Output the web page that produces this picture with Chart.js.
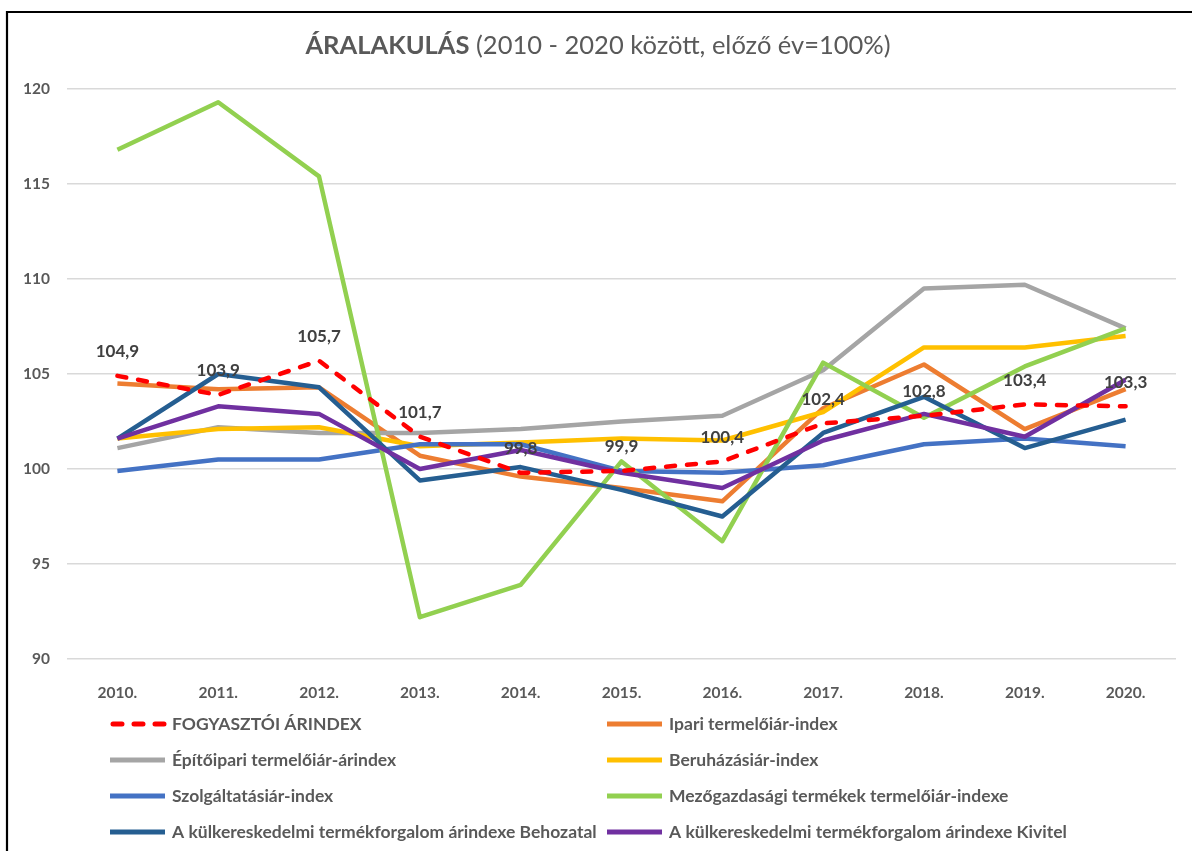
<!DOCTYPE html>
<html>
<head>
<meta charset="utf-8">
<script src="https://cdn.jsdelivr.net/npm/chart.js@4"></script>
<style>
  body { margin: 0; background: #fff; }
  canvas { display: block; }
</style>
</head>
<body>
<canvas id="chart" width="1192" height="851"></canvas>
<script>
// ================= Data =================
const years = ['2010.', '2011.', '2012.', '2013.', '2014.', '2015.', '2016.', '2017.', '2018.', '2019.', '2020.'];
const yTicks = [90, 95, 100, 105, 110, 115, 120];

const fogyasztoi    = [104.9, 103.9, 105.7, 101.7, 99.8, 99.9, 100.4, 102.4, 102.8, 103.4, 103.3];
const ipari         = [104.5, 104.2, 104.3, 100.7, 99.6, 99.0, 98.3, 103.2, 105.5, 102.1, 104.2];
const epitoipari    = [101.1, 102.2, 101.9, 101.9, 102.1, 102.5, 102.8, 105.2, 109.5, 109.7, 107.4];
const beruhazasi    = [101.6, 102.1, 102.2, 101.2, 101.4, 101.6, 101.5, 103.0, 106.4, 106.4, 107.0];
const szolgaltatasi = [99.9, 100.5, 100.5, 101.3, 101.3, 99.9, 99.8, 100.2, 101.3, 101.6, 101.2];
const mezogazdasagi = [116.8, 119.3, 115.4, 92.2, 93.9, 100.4, 96.2, 105.6, 102.7, 105.4, 107.4];
const behozatal     = [101.6, 105.0, 104.3, 99.4, 100.1, 98.9, 97.5, 101.9, 103.8, 101.1, 102.6];
const kivitel       = [101.6, 103.3, 102.9, 100.0, 101.0, 99.8, 99.0, 101.5, 102.9, 101.7, 104.7];

// data labels of the consumer price index (Hungarian decimal comma)
const cpiLabels = fogyasztoi.map(v => v.toFixed(1).replace('.', ','));

const TEXT = '#595959';
const FONT = 'Lato, "Open Sans", sans-serif';

function line(label, data, color, order, dashed) {
  return {
    label, data, order,
    borderColor: color, backgroundColor: color,
    borderWidth: 4.5, pointRadius: 0, tension: 0,
    borderDash: dashed ? [9, 12] : [],
    borderCapStyle: dashed ? 'round' : 'butt',
    borderJoinStyle: 'round'
  };
}

// ================= Plugins =================
const framePlugin = {
  id: 'frame',
  afterDraw(chart) {
    const ctx = chart.ctx;
    ctx.save();
    ctx.strokeStyle = '#000';
    ctx.lineWidth = 2.2;
    ctx.beginPath();
    ctx.moveTo(7, chart.height);
    ctx.lineTo(7, 12);
    ctx.lineTo(chart.width, 12);
    ctx.stroke();
    ctx.restore();
  }
};

const titlePlugin = {
  id: 'mixedTitle',
  afterDraw(chart) {
    const ctx = chart.ctx;
    const bold = 'ÁRALAKULÁS';
    const rest = ' (2010 - 2020 között, előző év=100%)';
    ctx.save();
    ctx.fillStyle = TEXT;
    ctx.textBaseline = 'middle';
    ctx.font = 'bold 25.5px ' + FONT;
    const w1 = ctx.measureText(bold).width;
    ctx.font = '25.5px ' + FONT;
    const w2 = ctx.measureText(rest).width;
    let x = 598 - (w1 + w2) / 2;
    ctx.font = 'bold 25.5px ' + FONT;
    ctx.fillText(bold, x, 46);
    ctx.font = '25.5px ' + FONT;
    ctx.fillText(rest, x + w1, 46);
    ctx.restore();
  }
};

const labelPlugin = {
  id: 'cpiLabels',
  afterDatasetsDraw(chart) {
    const ctx = chart.ctx;
    const meta = chart.getDatasetMeta(0);
    ctx.save();
    ctx.font = 'bold 17px ' + FONT;
    ctx.fillStyle = '#404040';
    ctx.textAlign = 'center';
    ctx.textBaseline = 'middle';
    meta.data.forEach((pt, i) => ctx.fillText(cpiLabels[i], pt.x, pt.y - 24));
    ctx.restore();
  }
};

const legendPlugin = {
  id: 'gridLegend',
  afterDraw(chart) {
    const ctx = chart.ctx;
    const cols = [110, 607];
    const rows = [724, 760, 796, 832];
    ctx.save();
    ctx.font = 'bold 17.5px ' + FONT;
    ctx.textBaseline = 'middle';
    chart.data.datasets.forEach((ds, i) => {
      const x = cols[i % 2], y = rows[Math.floor(i / 2)];
      ctx.strokeStyle = ds.borderColor;
      ctx.lineWidth = 5;
      ctx.setLineDash(ds.borderDash);
      ctx.lineCap = ds.borderCapStyle;
      ctx.beginPath();
      ctx.moveTo(ds.borderDash.length ? x + 3 : x, y);
      ctx.lineTo(x + 55, y);
      ctx.stroke();
      ctx.setLineDash([]);
      ctx.fillStyle = TEXT;
      ctx.fillText(ds.label, x + 62, y);
    });
    ctx.restore();
  }
};

// ================= Chart =================
new Chart(document.getElementById('chart').getContext('2d'), {
  type: 'line',
  data: {
    labels: years,
    datasets: [
      line('FOGYASZTÓI ÁRINDEX', fogyasztoi, '#FF0000', 0, true),
      line('Ipari termelőiár-index', ipari, '#ED7D31', 7),
      line('Építőipari termelőiár-árindex', epitoipari, '#A5A5A5', 6),
      line('Beruházásiár-index', beruhazasi, '#FFC000', 5),
      line('Szolgáltatásiár-index', szolgaltatasi, '#4472C4', 4),
      line('Mezőgazdasági termékek termelőiár-indexe', mezogazdasagi, '#92D050', 3),
      line('A külkereskedelmi termékforgalom árindexe Behozatal', behozatal, '#255E91', 2),
      line('A külkereskedelmi termékforgalom árindexe Kivitel', kivitel, '#7030A0', 1)
    ]
  },
  options: {
    responsive: false,
    animation: false,
    layout: { padding: { top: 89, right: 16, left: 0, bottom: 0 } },
    plugins: { legend: { display: false }, title: { display: false }, tooltip: { enabled: false } },
    scales: {
      x: {
        offset: true,
        grid: { display: false },
        border: { display: false },
        ticks: { color: TEXT, font: { family: FONT, size: 15.5, weight: 'bold' }, padding: 17, maxRotation: 0 },
        afterFit(scale) { scale.height = 192; }
      },
      y: {
        min: 90, max: 120,
        afterBuildTicks(scale) { scale.ticks = yTicks.map(v => ({ value: v })); },
        grid: { color: '#D9D9D9', lineWidth: 1.5, drawTicks: false },
        border: { display: false },
        ticks: { color: TEXT, font: { family: FONT, size: 15.5, weight: 'bold' }, padding: 17 },
        afterFit(scale) { scale.width = 67; }
      }
    }
  },
  plugins: [framePlugin, titlePlugin, labelPlugin, legendPlugin]
});
</script>
</body>
</html>
